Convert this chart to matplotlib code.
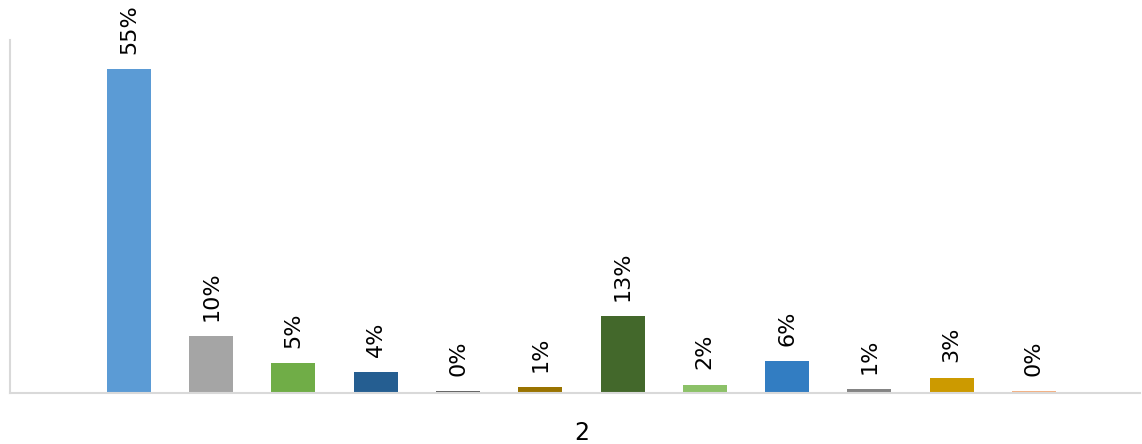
import numpy as np
import matplotlib
matplotlib.use('Agg')
import matplotlib.pyplot as plt

# Share of each series in category "2"
values = [55.0, 9.7, 5.1, 3.6, 0.35, 1.0, 13.1, 1.4, 5.4, 0.7, 2.6, 0.35]
labels = ['55%', '10%', '5%', '4%', '0%', '1%', '13%', '2%', '6%', '1%', '3%', '0%']
colors = ['#5B9BD5', '#A5A5A5', '#70AD47', '#255E91', '#636363', '#997300',
          '#43682B', '#8CC168', '#327DC2', '#848484', '#CC9A00', '#F4B183']
category = '2'

fig = plt.figure(figsize=(11.42, 4.44), dpi=100)
ax = fig.add_axes([10 / 1142, 51 / 444, 1130 / 1142, 353 / 444])

x = np.arange(len(values))
ax.bar(x, values, width=0.535, color=colors)

# Rotated data labels above each bar
for xi, v, lab in zip(x, values, labels):
    ax.annotate(lab, (xi, v), xytext=(0, 11), textcoords='offset points',
                rotation=90, ha='center', va='bottom', fontsize=16,
                color='#000000', family='DejaVu Sans')

ax.set_xlim(-1.446, 12.29)
ax.set_ylim(0, 60)

for side in ['top', 'right']:
    ax.spines[side].set_visible(False)
for side in ['left', 'bottom']:
    ax.spines[side].set_color('#d9d9d9')
    ax.spines[side].set_linewidth(1.5)

ax.set_yticks([])
ax.set_xticks([5.5])
ax.set_xticklabels([category], fontsize=17)
ax.tick_params(axis='x', length=0, pad=20)

fig.savefig('out.png', dpi=100)
